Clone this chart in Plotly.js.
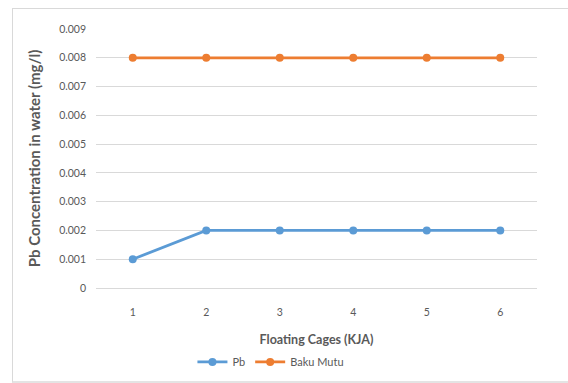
<!DOCTYPE html>
<html>
<head>
<meta charset="utf-8">
<script src="https://cdn.plot.ly/plotly-3.0.1.min.js"></script>
<style>
  html, body { margin: 0; padding: 0; background: #ffffff; }
  #frame {
    position: absolute; left: 12px; top: 8px; width: 560px; height: 372px;
    border-left: 1px solid #d9d9d9; border-top: 1px solid #d9d9d9; border-bottom: 2px solid #e4e4e4;
    background: #ffffff;
  }
  #chart { position: absolute; left: 0; top: 0; width: 568px; height: 383px; }
</style>
</head>
<body>
<div id="frame"></div>
<div id="chart"></div>
<script>
// Floating cage (KJA) stations
const cages = [1, 2, 3, 4, 5, 6];
// Measured Pb concentration in water (mg/l)
const pbValues = [0.001, 0.002, 0.002, 0.002, 0.002, 0.002];
// Quality standard (Baku Mutu) threshold (mg/l)
const bakuMutu = [0.008, 0.008, 0.008, 0.008, 0.008, 0.008];
// Y axis ticks
const yTickVals = [0, 0.001, 0.002, 0.003, 0.004, 0.005, 0.006, 0.007, 0.008, 0.009];
const yTickText = ['0', '0.001', '0.002', '0.003', '0.004', '0.005', '0.006', '0.007', '0.008', '0.009'];

const FONT = 'Lato, "Open Sans", sans-serif';

const traces = [
  {
    x: cages, y: pbValues, name: 'Pb', type: 'scatter', mode: 'lines+markers',
    line: { color: '#5b9bd5', width: 2.8 },
    marker: { color: '#5b9bd5', size: 8 }
  },
  {
    x: cages, y: bakuMutu, name: 'Baku Mutu', type: 'scatter', mode: 'lines+markers',
    line: { color: '#ed7d31', width: 2.8 },
    marker: { color: '#ed7d31', size: 8 }
  }
];

const layout = {
  width: 568, height: 383,
  margin: { l: 96, r: 31, t: 29, b: 95 },
  paper_bgcolor: 'rgba(0,0,0,0)',
  plot_bgcolor: 'rgba(0,0,0,0)',
  font: { family: FONT, color: '#595959', size: 10 },
  showlegend: true,
  legend: {
    orientation: 'h',
    xref: 'container', x: 0.477, xanchor: 'center',
    yref: 'container', y: 0.055, yanchor: 'middle',
    font: { family: FONT, size: 11, color: '#595959' },
    itemwidth: 30, tracegroupgap: 0
  },
  xaxis: {
    type: 'linear', range: [0.5, 6.5], automargin: false,
    tickvals: cages, ticktext: cages.map(String),
    showgrid: false, zeroline: false,
    showline: true, linecolor: '#d9d9d9', linewidth: 1,
    ticks: '', ticklabelstandoff: 14,
    tickfont: { family: FONT, size: 10.5, color: '#595959' },
    title: { text: 'Floating Cages (KJA)', font: { family: FONT, size: 12.5, color: '#595959', weight: 'bold' }, standoff: 18 }
  },
  yaxis: {
    range: [0, 0.009], automargin: false,
    tickvals: yTickVals, ticktext: yTickText,
    showgrid: true, gridcolor: '#d9d9d9', gridwidth: 1,
    zeroline: false, showline: false,
    ticks: '', ticklabelstandoff: 9,
    tickfont: { family: FONT, size: 10.5, color: '#595959' },
    title: { text: 'Pb Concentration in water (mg/l)', font: { family: FONT, size: 15, color: '#595959', weight: 'bold' }, standoff: 14 }
  }
};

Plotly.newPlot('chart', traces, layout, { displayModeBar: false, staticPlot: true });
</script>
</body>
</html>
